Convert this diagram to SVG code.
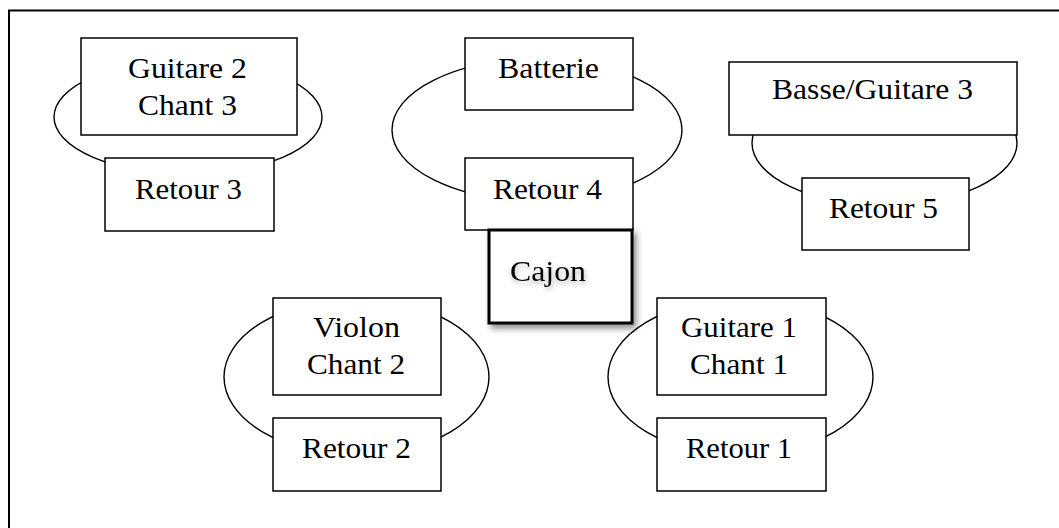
<svg xmlns="http://www.w3.org/2000/svg" width="1059" height="528" viewBox="0 0 1059 528">
  <defs>
    <style>
      .box { fill: #ffffff; stroke: #000000; stroke-width: 1.5; }
      .loop { fill: none; stroke: #000000; stroke-width: 1.4; }
      .lbl { font-family: "Liberation Serif", "Times New Roman", serif; font-size: 30px; fill: #000000; text-anchor: middle; }
    </style>
    <filter id="boxShadow" x="-20%" y="-20%" width="150%" height="150%">
      <feDropShadow dx="3" dy="4" stdDeviation="3" flood-color="#000000" flood-opacity="0.45"/>
    </filter>
    <filter id="textShadow" x="-20%" y="-30%" width="150%" height="180%">
      <feDropShadow dx="1" dy="3" stdDeviation="2.5" flood-color="#000000" flood-opacity="0.3"/>
    </filter>
  </defs>
  <rect x="0" y="0" width="1059" height="528" fill="#ffffff"/>
  <path d="M9,528 V10.5 H1059" fill="none" stroke="#000000" stroke-width="2"/>

  <g id="connectors">
    <ellipse class="loop" cx="188" cy="117" rx="134" ry="57"/>
    <ellipse class="loop" cx="537" cy="130" rx="145" ry="71"/>
    <ellipse class="loop" cx="884.5" cy="143" rx="132.5" ry="62"/>
    <ellipse class="loop" cx="356.5" cy="377" rx="132.5" ry="78"/>
    <ellipse class="loop" cx="740.5" cy="377" rx="132.5" ry="78"/>
  </g>

  <g id="guitare2">
    <rect class="box" x="81" y="38" width="216" height="97"/>
    <text class="lbl" x="187.5" y="78" textLength="119" lengthAdjust="spacingAndGlyphs">Guitare 2</text>
    <text class="lbl" x="187.5" y="115" textLength="99" lengthAdjust="spacingAndGlyphs">Chant 3</text>
  </g>
  <g id="retour3">
    <rect class="box" x="105" y="158" width="169" height="73"/>
    <text class="lbl" x="188.5" y="199" textLength="107" lengthAdjust="spacingAndGlyphs">Retour 3</text>
  </g>

  <g id="batterie">
    <rect class="box" x="465" y="38" width="168" height="72"/>
    <text class="lbl" x="548.5" y="78" textLength="101" lengthAdjust="spacingAndGlyphs">Batterie</text>
  </g>
  <g id="retour4">
    <rect class="box" x="465" y="158" width="168" height="72"/>
    <text class="lbl" x="547.5" y="199" textLength="109" lengthAdjust="spacingAndGlyphs">Retour 4</text>
  </g>

  <g id="cajon">
    <rect x="489" y="230" width="143" height="93" fill="#ffffff" stroke="#000000" stroke-width="3" filter="url(#boxShadow)"/>
    <text class="lbl" x="548" y="281" textLength="76" lengthAdjust="spacingAndGlyphs" filter="url(#textShadow)">Cajon</text>
  </g>

  <g id="basse">
    <rect class="box" x="729" y="62" width="288" height="73"/>
    <text class="lbl" x="872.5" y="99" textLength="201" lengthAdjust="spacingAndGlyphs">Basse/Guitare 3</text>
  </g>
  <g id="retour5">
    <rect class="box" x="802" y="178" width="167" height="72"/>
    <text class="lbl" x="883.5" y="218" textLength="109" lengthAdjust="spacingAndGlyphs">Retour 5</text>
  </g>

  <g id="violon">
    <rect class="box" x="273" y="298" width="168" height="97"/>
    <text class="lbl" x="356.5" y="337" textLength="87" lengthAdjust="spacingAndGlyphs">Violon</text>
    <text class="lbl" x="356" y="374" textLength="98" lengthAdjust="spacingAndGlyphs">Chant 2</text>
  </g>
  <g id="retour2">
    <rect class="box" x="273" y="418" width="168" height="73"/>
    <text class="lbl" x="356.5" y="458" textLength="109" lengthAdjust="spacingAndGlyphs">Retour 2</text>
  </g>

  <g id="guitare1">
    <rect class="box" x="657" y="298" width="169" height="97"/>
    <text class="lbl" x="739" y="337" textLength="116" lengthAdjust="spacingAndGlyphs">Guitare 1</text>
    <text class="lbl" x="739" y="374" textLength="98" lengthAdjust="spacingAndGlyphs">Chant 1</text>
  </g>
  <g id="retour1">
    <rect class="box" x="657" y="418" width="169" height="73"/>
    <text class="lbl" x="739" y="458" textLength="106" lengthAdjust="spacingAndGlyphs">Retour 1</text>
  </g>
</svg>
